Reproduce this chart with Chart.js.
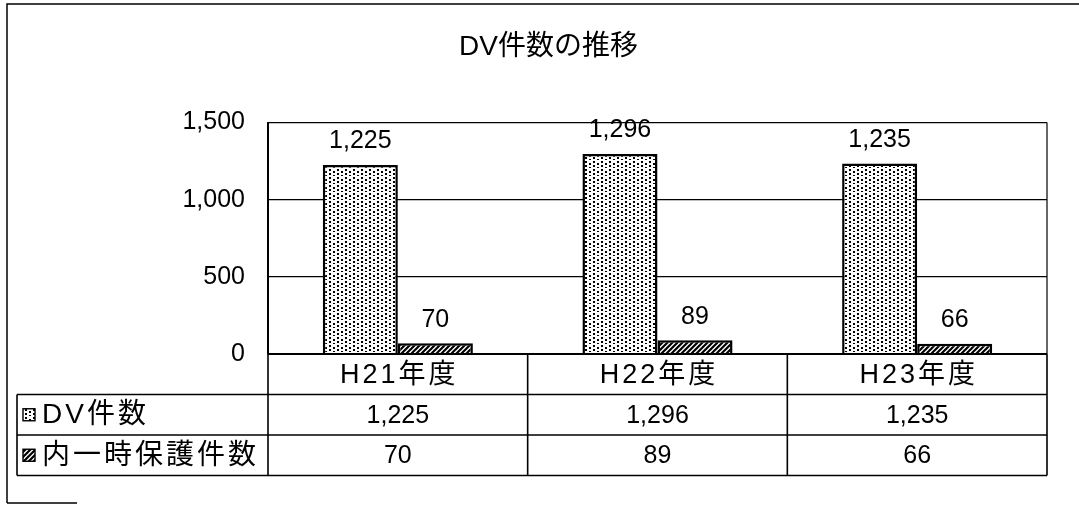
<!DOCTYPE html>
<html lang="ja">
<head>
  <meta charset="UTF-8">
  <title>DV件数の推移</title>
  <script src="https://cdn.jsdelivr.net/npm/chart.js"></script>
  <style>
    body { margin: 0; background: #fff; }
    .wrap { width: 1079px; height: 505px; position: relative; }
  </style>
</head>
<body>
  <div class="wrap"><canvas id="dvChart"></canvas></div>

<script>
  // data
  const categories = ['H21年度', 'H22年度', 'H23年度'];
  const seriesNames = ['DV件数', '内一時保護件数'];
  const dvCounts = [1225, 1296, 1235];
  const shelterCounts = [70, 89, 66];
  const yTicks = [0, 500, 1000, 1500];

  const FONT = '"Liberation Sans", "Noto Sans CJK JP", sans-serif';
  const canvas = document.getElementById('dvChart');
  const mainCtx = canvas.getContext('2d');

  // stipple fill for the DV bars
  function dotPattern() {
    const t = document.createElement('canvas');
    t.width = 8; t.height = 8;
    const g = t.getContext('2d');
    g.fillStyle = '#fff';
    g.fillRect(0, 0, 8, 8);
    g.fillStyle = '#000';
    [[1, 1], [5, 3], [1, 5], [5, 7]].forEach(p => g.fillRect(p[0], p[1], 2, 2));
    return mainCtx.createPattern(t, 'repeat');
  }

  // diagonal hatch for the shelter bars
  function hatchPattern() {
    const s = 5;
    const t = document.createElement('canvas');
    t.width = s; t.height = s;
    const g = t.getContext('2d');
    g.fillStyle = '#fff';
    g.fillRect(0, 0, s, s);
    g.strokeStyle = '#000';
    g.lineWidth = 2.2;
    g.beginPath();
    g.moveTo(0, s); g.lineTo(s, 0);
    g.moveTo(-1, 1); g.lineTo(1, -1);
    g.moveTo(s - 1, s + 1); g.lineTo(s + 1, s - 1);
    g.stroke();
    return mainCtx.createPattern(t, 'repeat');
  }

  const dots = dotPattern();
  const hatch = hatchPattern();
  const fmt = v => v.toLocaleString('en-US');

  // value labels above each bar
  const valueLabels = {
    id: 'valueLabels',
    afterDatasetsDraw(chart) {
      const ctx = chart.ctx;
      ctx.save();
      ctx.font = '25px ' + FONT;
      ctx.fillStyle = '#000';
      ctx.textAlign = 'center';
      ctx.textBaseline = 'bottom';
      chart.data.datasets.forEach((ds, i) => {
        chart.getDatasetMeta(i).data.forEach((bar, j) => {
          ctx.fillText(fmt(ds.data[j]), bar.x, bar.y - 11);
        });
      });
      ctx.restore();
    }
  };

  // frame, plot border and the data table under the plot
  const dataTable = {
    id: 'dataTable',
    afterDraw(chart) {
      const ctx = chart.ctx;
      const area = chart.chartArea;
      const x = chart.scales.x;
      const rowH = 40.5;
      const r0 = area.bottom, r1 = r0 + rowH, r2 = r1 + rowH, r3 = r2 + rowH;
      const leftCol = 17;
      const edges = categories.map((c, i) => x.getPixelForValue(i - 0.5));
      edges.push(x.getPixelForValue(categories.length - 0.5));

      ctx.save();
      ctx.strokeStyle = '#000';

      // outer frame (only left, top and a bit of bottom are visible)
      ctx.lineWidth = 1.5;
      ctx.beginPath();
      ctx.moveTo(7, 503); ctx.lineTo(7, 4); ctx.lineTo(1079, 4);
      ctx.moveTo(7, 503); ctx.lineTo(77, 503);
      ctx.stroke();

      // right side of plot
      ctx.lineWidth = 1.2;
      ctx.beginPath();
      ctx.moveTo(area.right, area.top); ctx.lineTo(area.right, area.bottom);
      ctx.stroke();

      // table grid
      ctx.lineWidth = 2;
      ctx.beginPath();
      ctx.moveTo(area.left, r0); ctx.lineTo(area.right, r0);
      ctx.stroke();
      ctx.lineWidth = 1.6;
      ctx.beginPath();
      [r1, r2, r3].forEach(y => { ctx.moveTo(leftCol, y); ctx.lineTo(area.right, y); });
      edges.forEach(ex => { ctx.moveTo(ex, r0); ctx.lineTo(ex, r3); });
      ctx.moveTo(leftCol, r1); ctx.lineTo(leftCol, r3);
      ctx.stroke();

      // header row
      ctx.fillStyle = '#000';
      ctx.textBaseline = 'middle';
      ctx.textAlign = 'center';
      ctx.font = '27px ' + FONT;
      ctx.letterSpacing = '3px';
      categories.forEach((c, i) => {
        ctx.fillText(c, (edges[i] + edges[i + 1]) / 2 + 1.5, (r0 + r1) / 2 + 1);
      });

      // row labels with swatches
      const rows = [[r1, r2, dots, dvCounts], [r2, r3, hatch, shelterCounts]];
      rows.forEach((row, k) => {
        const cy = (row[0] + row[1]) / 2;
        ctx.fillStyle = row[2];
        ctx.fillRect(23, cy - 6, 12, 12);
        ctx.lineWidth = 1.4;
        ctx.strokeRect(23, cy - 6, 12, 12);
        ctx.fillStyle = '#000';
        ctx.textAlign = 'left';
        ctx.font = '28px ' + FONT;
        ctx.letterSpacing = '3px';
        ctx.fillText(seriesNames[k], 42, cy + 1);
        ctx.textAlign = 'center';
        ctx.font = '25px ' + FONT;
        ctx.letterSpacing = '0px';
        row[3].forEach((v, i) => {
          ctx.fillText(fmt(v), (edges[i] + edges[i + 1]) / 2, cy + 1);
        });
      });
      ctx.restore();
    }
  };

  new Chart(mainCtx, {
    type: 'bar',
    data: {
      labels: categories,
      datasets: [
        {
          label: seriesNames[0],
          data: dvCounts,
          backgroundColor: dots,
          borderColor: '#000',
          borderWidth: 2.5
        },
        {
          label: seriesNames[1],
          data: shelterCounts,
          backgroundColor: hatch,
          borderColor: '#000',
          borderWidth: 2.5
        }
      ]
    },
    options: {
      responsive: true,
      maintainAspectRatio: false,
      animation: false,
      locale: 'en-US',
      layout: { padding: { left: 50, right: 32, top: 0, bottom: 151 } },
      datasets: { bar: { categoryPercentage: 0.578, barPercentage: 1 } },
      plugins: {
        legend: { display: false },
        tooltip: { enabled: false },
        title: {
          display: true,
          text: 'DV件数の推移',
          color: '#000',
          font: { family: FONT, size: 28, weight: 'normal' },
          padding: { top: 30, bottom: 59 }
        }
      },
      scales: {
        x: { display: false },
        y: {
          min: 0,
          max: 1500,
          afterFit(scale) { scale.width = 218; },
          afterBuildTicks(scale) { scale.ticks = yTicks.map(v => ({ value: v })); },
          border: { display: true, color: '#000', width: 2 },
          grid: { color: '#000', lineWidth: 1.2, drawTicks: false },
          ticks: { color: '#000', padding: 23, font: { family: FONT, size: 25 } }
        }
      }
    },
    plugins: [valueLabels, dataTable]
  });
</script>
</body>
</html>
